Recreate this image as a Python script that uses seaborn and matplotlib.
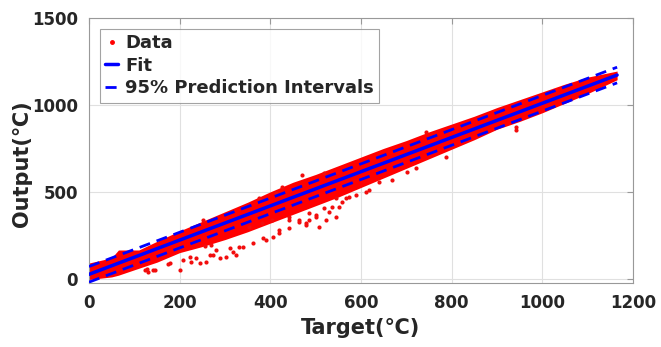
import numpy as np
import pandas as pd
import seaborn as sns
import matplotlib
import matplotlib.pyplot as plt
from matplotlib.lines import Line2D

matplotlib.use('Agg')

# dense core of the data cloud: target, lower / upper edge
band_x = [0, 50, 65, 110, 150, 200, 250, 300, 350, 400, 450, 500, 550, 600,
          650, 700, 750, 800, 850, 900, 950, 1000, 1050, 1100, 1165]
band_lo = [-5, 10, 20, 60, 95, 150, 185, 225, 270, 320, 370, 420, 470, 525,
           580, 635, 690, 745, 800, 860, 905, 955, 1010, 1065, 1145]
band_hi = [90, 120, 165, 165, 215, 275, 330, 385, 440, 500, 555, 600, 650, 700,
           750, 795, 845, 890, 935, 985, 1030, 1075, 1120, 1160, 1195]

# scattered points outside the dense core
pts_x = [141, 130, 178, 207, 237, 259, 273, 303, 317, 339, 361, 383, 405, 420,
         442, 464, 479, 501, 519, 251, 310, 325, 244, 222, 618, 640, 574, 552,
         668, 701, 721, 787, 743, 943, 941, 470, 519, 426, 413, 391, 420, 486,
         442, 523, 536, 558, 332, 123, 145, 174, 530, 545,
         200, 127, 226, 266, 281, 288, 255, 270, 376, 404, 442, 464, 486, 501,
         567, 508, 354, 382, 479, 545, 590, 610]
pts_y = [52, 40, 92, 109, 121, 98, 138, 126, 155, 184, 207, 236, 241, 264,
         293, 328, 310, 368, 408, 339, 178, 138, 92, 126, 511, 557, 471, 414,
         569, 615, 638, 701, 845, 856, 874, 598, 609, 529, 494, 224, 282, 339,
         339, 339, 414, 443, 184, 52, 52, 86, 385, 465,
         52, 57, 98, 138, 167, 121, 190, 195, 466, 339, 356, 339, 379, 356,
         466, 299, 299, 322, 322, 356, 480, 500]

# fitted line and 95% prediction intervals
fit_x = [0, 1165]
fit_y = [25, 1172]
pi_lo = [-20, 1127]
pi_hi = [70, 1217]

sns.set_style('white')
plt.rcParams['font.family'] = ['DejaVu Sans', 'Noto Sans CJK SC']
plt.rcParams['font.weight'] = 'bold'

fig = plt.figure(figsize=(6.61, 3.47), dpi=100)
ax = fig.add_axes([0.1346, 0.1844, 0.823, 0.7636])

red = (1, 0, 0)
blue = (0, 0, 1)

ax.fill_between(band_x, band_lo, band_hi, color=red, linewidth=0, zorder=2)
sns.scatterplot(x=pts_x, y=pts_y, ax=ax, color=(0.95, 0.05, 0.05), s=9,
                linewidth=0, zorder=3)

df_fit = pd.DataFrame({'x': fit_x, 'fit': fit_y, 'lo': pi_lo, 'hi': pi_hi})
sns.lineplot(data=df_fit, x='x', y='fit', ax=ax, color=blue, linewidth=2.5, zorder=5)
for col in ['lo', 'hi']:
    sns.lineplot(data=df_fit, x='x', y=col, ax=ax, color=blue, linewidth=2,
                 dashes=False, zorder=4)
for line in ax.lines[1:]:
    line.set_dashes([4, 2.5])

ax.set_xlim(0, 1200)
ax.set_ylim(-25, 1500)
ax.set_xticks(np.arange(0, 1201, 200))
ax.set_yticks([0, 500, 1000, 1500])
ax.grid(True, color='0.88', linewidth=0.8)
ax.set_axisbelow(True)
for sp in ax.spines.values():
    sp.set_color('0.6')
    sp.set_linewidth(0.8)
ax.tick_params(direction='in', length=4, color='0.6', top=True, right=True,
               labelsize=12, pad=8, labelcolor='0.15')
for lab in ax.get_xticklabels() + ax.get_yticklabels():
    lab.set_fontweight('bold')

ax.set_xlabel('Target(℃)', fontsize=15, fontweight='bold', color='0.15', labelpad=4)
ax.set_ylabel('Output(℃)', fontsize=15, fontweight='bold', color='0.15', labelpad=1)
ax.yaxis.set_label_coords(-0.105, 0.45)

handles = [
    Line2D([], [], marker='o', markersize=2.5, color=red, linestyle='none'),
    Line2D([], [], color=blue, linewidth=2.5),
    Line2D([], [], color=blue, linewidth=2, dashes=[4, 2.5]),
]
leg = ax.legend(handles, ['Data', 'Fit', '95% Prediction Intervals'],
                loc='upper left', fontsize=13, handlelength=0.7, handletextpad=0.4,
                labelspacing=0.25, borderpad=0.3, borderaxespad=0.6,
                frameon=True, fancybox=False, edgecolor='0.55')
leg.get_frame().set_linewidth(0.8)
for t in leg.get_texts():
    t.set_fontweight('bold')

fig.savefig('out.png', dpi=100)
